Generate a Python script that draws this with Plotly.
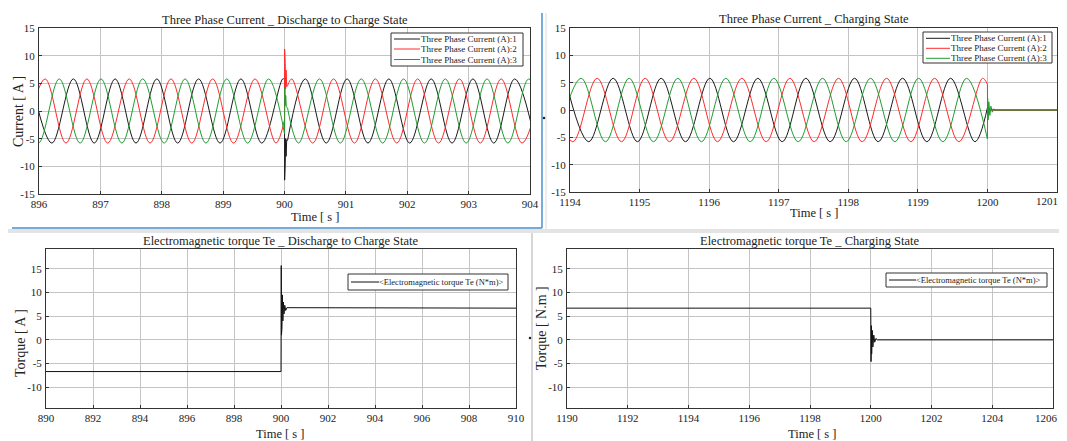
import plotly.graph_objects as go

# ---------------- data ----------------
# Top-left: Three Phase Current, discharge -> charge (extrema of each phase)
tl_red_pre_t = [895.76, 896.10, 896.44, 896.78, 897.12, 897.47, 897.81, 898.15, 898.49, 898.83, 899.17, 899.52, 899.86, 900.00]
tl_red_pre_v = [-5.8, 5.8, -5.8, 5.8, -5.8, 5.8, -5.8, 5.8, -5.8, 5.8, -5.8, 5.8, -5.8, -1.6]
tl_red_tr_t = [900.00, 900.002, 900.006, 900.012, 900.018, 900.026, 900.036, 900.05]
tl_red_tr_v = [-1.6, 11.2, 3.0, 8.6, 4.0, 7.4, 4.4, 4.6]
tl_red_post_t = [900.05, 900.12, 900.46, 900.80, 901.14, 901.48, 901.83, 902.17, 902.51, 902.85, 903.19, 903.53, 903.87, 904.21]
tl_red_post_v = [4.6, 5.8, -5.8, 5.8, -5.8, 5.8, -5.8, 5.8, -5.8, 5.8, -5.8, 5.8, -5.8, 5.8]

tl_blk_pre_t = [895.87, 896.21, 896.56, 896.90, 897.24, 897.58, 897.92, 898.26, 898.60, 898.95, 899.29, 899.63, 899.97, 900.00]
tl_blk_pre_v = [5.8, -5.8, 5.8, -5.8, 5.8, -5.8, 5.8, -5.8, 5.8, -5.8, 5.8, -5.8, 5.8, 5.75]
tl_blk_tr_t = [900.00, 900.002, 900.006, 900.012, 900.018, 900.026, 900.036, 900.05]
tl_blk_tr_v = [5.75, -12.5, -4.0, -9.6, -5.0, -8.2, -5.2, -5.3]
tl_blk_post_t = [900.05, 900.34, 900.68, 901.02, 901.36, 901.70, 902.04, 902.39, 902.73, 903.07, 903.41, 903.75, 904.09]
tl_blk_post_v = [-5.3, 5.8, -5.8, 5.8, -5.8, 5.8, -5.8, 5.8, -5.8, 5.8, -5.8, 5.8, -5.8]

tl_grn_pre_t = [895.64, 895.99, 896.33, 896.67, 897.01, 897.35, 897.69, 898.04, 898.38, 898.72, 899.06, 899.40, 899.74, 900.00]
tl_grn_pre_v = [5.8, -5.8, 5.8, -5.8, 5.8, -5.8, 5.8, -5.8, 5.8, -5.8, 5.8, -5.8, 5.8, -4.1]
tl_grn_tr_t = [900.00, 900.002, 900.006, 900.012, 900.02, 900.03, 900.05]
tl_grn_tr_v = [-4.1, 1.8, 4.2, 1.0, 2.8, 0.8, 0.5]
tl_grn_post_t = [900.05, 900.23, 900.57, 900.91, 901.25, 901.60, 901.94, 902.28, 902.62, 902.96, 903.30, 903.64, 903.98, 904.32]
tl_grn_post_v = [0.5, -5.8, 5.8, -5.8, 5.8, -5.8, 5.8, -5.8, 5.8, -5.8, 5.8, -5.8, 5.8, -5.8]

# Top-right: Three Phase Current, charging state
tr_red_pre_t = [1193.70, 1194.04, 1194.39, 1194.74, 1195.08, 1195.43, 1195.78, 1196.12, 1196.47, 1196.82, 1197.16, 1197.51, 1197.86, 1198.20, 1198.55, 1198.90, 1199.24, 1199.59, 1199.93, 1200.00]
tr_red_pre_v = [5.8, -5.8, 5.8, -5.8, 5.8, -5.8, 5.8, -5.8, 5.8, -5.8, 5.8, -5.8, 5.8, -5.8, 5.8, -5.8, 5.8, -5.8, 5.8, 4.7]
tr_red_tail_t = [1200.00, 1200.003, 1200.01, 1200.025, 1200.05, 1200.10, 1201.00]
tr_red_tail_v = [4.7, -1.5, 1.2, -0.6, 0.2, 0.0, 0.0]

tr_blk_pre_t = [1193.93, 1194.27, 1194.62, 1194.97, 1195.31, 1195.66, 1196.01, 1196.35, 1196.70, 1197.05, 1197.39, 1197.74, 1198.09, 1198.43, 1198.78, 1199.13, 1199.47, 1199.82, 1200.00]
tr_blk_pre_v = [5.8, -5.8, 5.8, -5.8, 5.8, -5.8, 5.8, -5.8, 5.8, -5.8, 5.8, -5.8, 5.8, -5.8, 5.8, -5.8, 5.8, -5.8, 0.4]
tr_blk_tail_t = [1200.00, 1200.005, 1200.015, 1200.05, 1201.00]
tr_blk_tail_v = [0.4, -0.8, 0.5, 0.0, 0.0]

tr_grn_pre_t = [1193.81, 1194.16, 1194.51, 1194.85, 1195.20, 1195.55, 1195.89, 1196.24, 1196.59, 1196.93, 1197.28, 1197.63, 1197.97, 1198.32, 1198.67, 1199.01, 1199.36, 1199.70, 1200.00]
tr_grn_pre_v = [-5.8, 5.8, -5.8, 5.8, -5.8, 5.8, -5.8, 5.8, -5.8, 5.8, -5.8, 5.8, -5.8, 5.8, -5.8, 5.8, -5.8, 5.8, -5.3]
tr_grn_tail_t = [1200.00, 1200.003, 1200.01, 1200.02, 1200.035, 1200.05, 1200.07, 1200.09, 1200.12, 1201.00]
tr_grn_tail_v = [-5.3, 2.2, -1.8, 1.5, -1.0, 0.7, -0.4, 0.2, 0.0, 0.0]

# Bottom-left: Electromagnetic torque, discharge -> charge
bl_te_t = [890.0, 900.0, 900.01, 900.02, 900.03, 900.04, 900.06, 900.08, 900.10, 900.13, 900.16, 900.20, 900.25, 910.0]
bl_te_v = [-6.7, -6.7, 15.7, 1.0, 11.0, 2.5, 9.5, 4.0, 8.0, 5.5, 7.3, 6.2, 6.8, 6.7]

# Bottom-right: Electromagnetic torque, charging state
br_te_t = [1190.0, 1200.0, 1200.01, 1200.02, 1200.03, 1200.05, 1200.07, 1200.10, 1200.13, 1200.17, 1200.22, 1206.0]
br_te_v = [6.7, 6.7, -4.6, 3.0, -3.0, 2.0, -1.5, 1.0, -0.5, 0.3, 0.0, 0.0]

phase_names = ["Three Phase Current (A):1", "Three Phase Current (A):2", "Three Phase Current (A):3"]
torque_name = "<Electromagnetic torque Te (N*m)>"

tl_xticks = [896, 897, 898, 899, 900, 901, 902, 903, 904]
tr_xticks = [1194, 1195, 1196, 1197, 1198, 1199, 1200, 1201]
cur_yticks = [-15, -10, -5, 0, 5, 10, 15]
bl_xticks = [890, 892, 894, 896, 898, 900, 902, 904, 906, 908, 910]
br_xticks = [1190, 1192, 1194, 1196, 1198, 1200, 1202, 1204, 1206]
tq_yticks = [-10, -5, 0, 5, 10, 15]

# ---------------- styling ----------------
VW, VH = 1067, 441        # browser window
OFF = 8                   # default page margin around the plot div
W, H = VW - OFF, VH - OFF
FONT = "Liberation Serif"
TXT = "#222222"
C_BLK, C_RED, C_GRN = "#1a1a1a", "#ff2a2a", "#1e9e30"
GRID = "#c4c4c4"


def X(p):
    return (p - OFF) / W


def Y(p):
    return 1 - (p - OFF) / H


fig = go.Figure()


def add(t, v, color, ax, shape="spline"):
    line = dict(color=color, width=1, shape=shape)
    if shape == "spline":
        line["smoothing"] = 1.0
    fig.add_trace(go.Scatter(
        x=t, y=v, mode="lines", xaxis="x" + ax, yaxis="y" + ax,
        line=line, showlegend=False, hoverinfo="skip"))


# top-left
for pre_t, pre_v, tr_t, tr_v, po_t, po_v, c in [
    (tl_blk_pre_t, tl_blk_pre_v, tl_blk_tr_t, tl_blk_tr_v, tl_blk_post_t, tl_blk_post_v, C_BLK),
    (tl_red_pre_t, tl_red_pre_v, tl_red_tr_t, tl_red_tr_v, tl_red_post_t, tl_red_post_v, C_RED),
    (tl_grn_pre_t, tl_grn_pre_v, tl_grn_tr_t, tl_grn_tr_v, tl_grn_post_t, tl_grn_post_v, C_GRN),
]:
    add(pre_t, pre_v, c, "")
    add(tr_t, tr_v, c, "", "linear")
    add(po_t, po_v, c, "")

# top-right
for pre_t, pre_v, ta_t, ta_v, c in [
    (tr_blk_pre_t, tr_blk_pre_v, tr_blk_tail_t, tr_blk_tail_v, C_BLK),
    (tr_red_pre_t, tr_red_pre_v, tr_red_tail_t, tr_red_tail_v, C_RED),
    (tr_grn_pre_t, tr_grn_pre_v, tr_grn_tail_t, tr_grn_tail_v, C_GRN),
]:
    add(pre_t, pre_v, c, "2")
    add(ta_t, ta_v, c, "2", "linear")

add(bl_te_t, bl_te_v, "#111111", "3", "linear")
add(br_te_t, br_te_v, "#111111", "4", "linear")

TICKFONT = dict(family=FONT, size=11, color=TXT)


def labels(ticks, hide_last=False):
    out = [str(t) for t in ticks]
    if hide_last:
        out[-1] = ""
    return out


def xa(dom, rng, ticks, anchor, hide_last=False):
    return dict(domain=dom, range=rng, tickvals=ticks, ticktext=labels(ticks, hide_last),
                showgrid=True, gridcolor=GRID, gridwidth=1, zeroline=False, automargin=False,
                showline=True, linecolor="#333333", linewidth=1, mirror=True,
                ticks="inside", ticklen=3, tickcolor="#333333", ticklabeloverflow="allow",
                tickfont=TICKFONT, anchor=anchor)


def ya(dom, rng, ticks, anchor):
    return dict(domain=dom, range=rng, tickvals=ticks, ticktext=labels(ticks),
                showgrid=True, gridcolor=GRID, gridwidth=1, zeroline=False, automargin=False,
                showline=True, linecolor="#333333", linewidth=1, mirror=True,
                ticks="inside", ticklen=3, tickcolor="#333333", ticklabelstandoff=1,
                ticklabeloverflow="allow", tickfont=TICKFONT, anchor=anchor)


fig.update_layout(
    template="none",
    width=W, height=H, autosize=False,
    margin=dict(l=0, r=0, t=0, b=0, pad=0),
    paper_bgcolor="white", plot_bgcolor="white",
    font=dict(family=FONT, color=TXT),
    showlegend=False,
    xaxis=xa([X(39), X(530)], [896, 904], tl_xticks, "y"),
    yaxis=ya([Y(194), Y(28)], [-15, 15], cur_yticks, "x"),
    xaxis2=xa([X(570), X(1057)], [1194, 1201], tr_xticks, "y2", True),
    yaxis2=ya([Y(192), Y(28)], [-15, 15], cur_yticks, "x2"),
    xaxis3=xa([X(46), X(516)], [890, 910], bl_xticks, "y3"),
    yaxis3=ya([Y(408), Y(249)], [-14.4, 19.2], tq_yticks, "x3"),
    xaxis4=xa([X(567), X(1053)], [1190, 1206], br_xticks, "y4", True),
    yaxis4=ya([Y(408), Y(249)], [-14.4, 19.2], tq_yticks, "x4"),
)

ann = []
shapes = []


def text(x, y, s, size=13, angle=0, xanchor="center"):
    ann.append(dict(x=X(x), y=Y(y), xref="paper", yref="paper", text=s, showarrow=False,
                    xanchor=xanchor, yanchor="middle", textangle=angle,
                    font=dict(family=FONT, size=size, color=TXT)))


# titles
text(285, 20, "Three Phase Current _ Discharge to Charge State", 12.5)
text(814, 19, "Three Phase Current _ Charging State", 12.5)
text(281, 241, "Electromagnetic torque Te _ Discharge to Charge State", 12.5)
text(810, 241, "Electromagnetic torque Te _ Charging State", 12.5)
# axis labels
text(315, 217, "Time [ s ]", 12.5)
text(814, 213, "Time [ s ]", 12.5)
text(280, 434, "Time [ s ]", 12.5)
text(812, 434, "Time [ s ]", 12.5)
text(19, 112, "Current [ A ]", 14, -90)
text(20, 343, "Torque [ A ]", 14, -90)
text(541, 328, "Torque [ N.m ]", 14, -90)
# last x tick labels at the right window edge, pulled inside
text(1060, 201, str(tr_xticks[-1]), 11, 0, "right")
text(1060, 418, str(br_xticks[-1]), 11, 0, "right")


def legend_box(x0, y0, x1, y1, lx0, lx1, tx, rows, size):
    shapes.append(dict(type="rect", xref="paper", yref="paper", x0=X(x0), x1=X(x1), y0=Y(y1), y1=Y(y0),
                       line=dict(color="#333333", width=1), fillcolor="white", layer="above"))
    for yy, col, label in rows:
        shapes.append(dict(type="line", xref="paper", yref="paper", x0=X(lx0), x1=X(lx1), y0=Y(yy), y1=Y(yy),
                           line=dict(color=col, width=1), layer="above"))
        text(tx, yy, label, size, 0, "left")


legend_box(391, 33, 523, 66, 394, 420, 419, [(39, C_BLK, phase_names[0]), (49, C_RED, phase_names[1]), (59.5, C_GRN, phase_names[2])], 9)
legend_box(923, 32, 1052, 63, 926, 950, 949, [(38.3, C_BLK, phase_names[0]), (48.3, C_RED, phase_names[1]), (58.3, C_GRN, phase_names[2])], 9)
legend_box(348, 274, 508, 290, 351, 379, 377, [(282, "#111111", torque_name)], 8.5)
legend_box(886, 273, 1047, 287, 889, 916, 914, [(280, "#111111", torque_name)], 8.5)

# panel separators from the composite screenshot
shapes.append(dict(type="rect", xref="paper", yref="paper", x0=0, x1=1, y0=Y(233), y1=Y(229),
                   line=dict(width=0), fillcolor="#e4e4e4", layer="below"))
shapes.append(dict(type="line", xref="paper", yref="paper", x0=X(532), x1=X(532), y0=Y(441), y1=Y(233),
                   line=dict(color="#d6d6d6", width=2), layer="below"))
shapes.append(dict(type="line", xref="paper", yref="paper", x0=X(546), x1=X(546), y0=Y(229), y1=Y(13),
                   line=dict(color="#dcdcdc", width=1), layer="below"))
shapes.append(dict(type="line", xref="paper", yref="paper", x0=X(12), x1=X(542), y0=Y(228), y1=Y(228),
                   line=dict(color="#4a8fcf", width=1.5), layer="above"))
shapes.append(dict(type="line", xref="paper", yref="paper", x0=X(542), x1=X(542), y0=Y(228), y1=Y(13),
                   line=dict(color="#4a8fcf", width=1.5), layer="above"))
# two small dots left between the screenshots
for cx, cy in [(544, 118), (530, 338)]:
    shapes.append(dict(type="circle", xref="paper", yref="paper", x0=X(cx - 1.3), x1=X(cx + 1.3),
                       y0=Y(cy + 1.3), y1=Y(cy - 1.3), line=dict(width=0), fillcolor="#222222", layer="above"))

fig.update_layout(annotations=ann, shapes=shapes)
fig.write_html("out.html")
